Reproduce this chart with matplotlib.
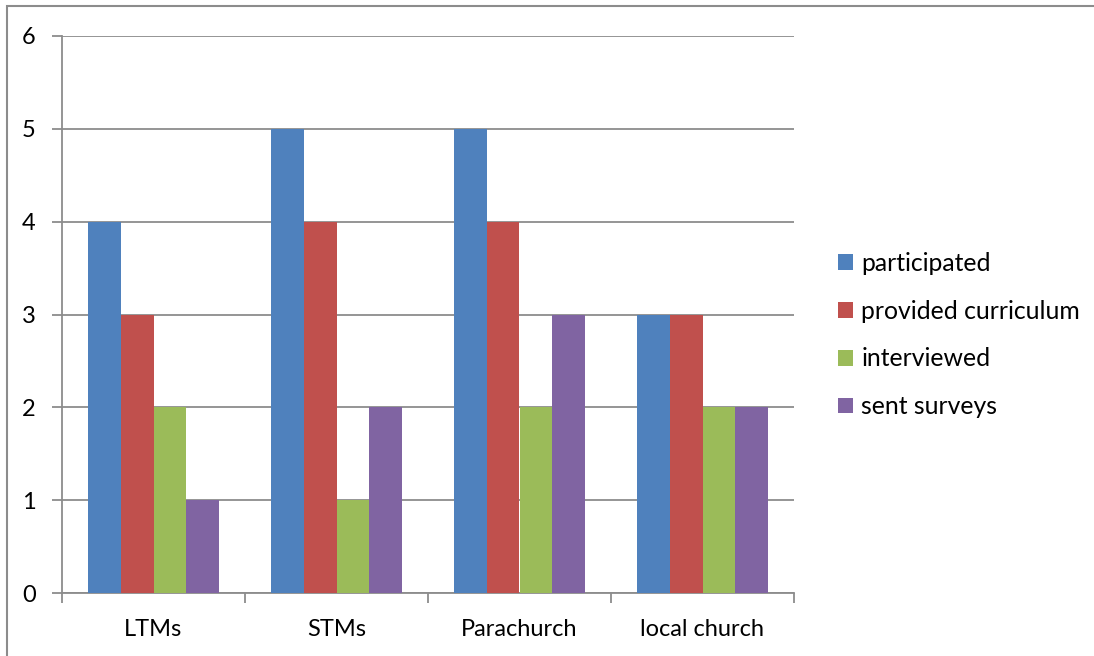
import numpy as np
import matplotlib.pyplot as plt
from matplotlib.patches import Rectangle

plt.rcParams['font.family'] = ['Lato', 'DejaVu Sans']

groups = ['LTMs', 'STMs', 'Parachurch', 'local church']
series = ['participated', 'provided curriculum', 'interviewed', 'sent surveys']
participated = [4, 5, 5, 3]
provided_curriculum = [3, 4, 4, 3]
interviewed = [2, 1, 2, 2]
sent_surveys = [1, 2, 3, 2]
colors = ['#4F81BD', '#C0504D', '#9BBB59', '#8064A2']

values = [participated, provided_curriculum, interviewed, sent_surveys]

fig = plt.figure(figsize=(10.94, 6.56), dpi=100)
ax = fig.add_axes([62 / 1094, 1 - 593 / 656, 732 / 1094, 557 / 656])

x = np.arange(len(groups))
w = 0.18
for i, (vals, name) in enumerate(zip(values, series)):
    ax.bar(x + (i - 1.5) * w, vals, width=w, color=colors[i], label=name, zorder=3)

ax.set_xlim(-0.5, len(groups) - 0.5)
ax.set_ylim(0, 6)
ax.set_yticks(range(7))
ax.yaxis.grid(True, color='#8c8c8c', linewidth=1.3, zorder=0)

for s in ['top', 'right']:
    ax.spines[s].set_visible(False)
ax.spines['left'].set_color('#8c8c8c')
ax.spines['left'].set_linewidth(1.3)
ax.spines['bottom'].set_color('#8c8c8c')
ax.spines['bottom'].set_linewidth(1.3)

ax.set_xticks(x)
ax.set_xticklabels(groups)
ax.set_xticks(np.arange(-0.5, len(groups)), minor=True)
ax.tick_params(axis='x', which='major', length=0, pad=19, labelsize=17)
ax.tick_params(axis='x', which='minor', length=7, color='#8c8c8c', width=1.3)
ax.tick_params(axis='y', length=7, color='#8c8c8c', width=1.3, pad=12, labelsize=17)

ax.legend(loc='center left', bbox_to_anchor=(1.03, 0.463), frameon=False,
          fontsize=17.8, handlelength=0.6, handleheight=0.6, handletextpad=0.33,
          labelspacing=1.0)

# outer chart border
fig.patches.append(Rectangle((7 / 1094, -0.1), 1.2, 1 - 6 / 656 + 0.1,
                             transform=fig.transFigure, fill=False,
                             edgecolor='#8c8c8c', linewidth=1.5))

fig.savefig('out.png', dpi=100)
